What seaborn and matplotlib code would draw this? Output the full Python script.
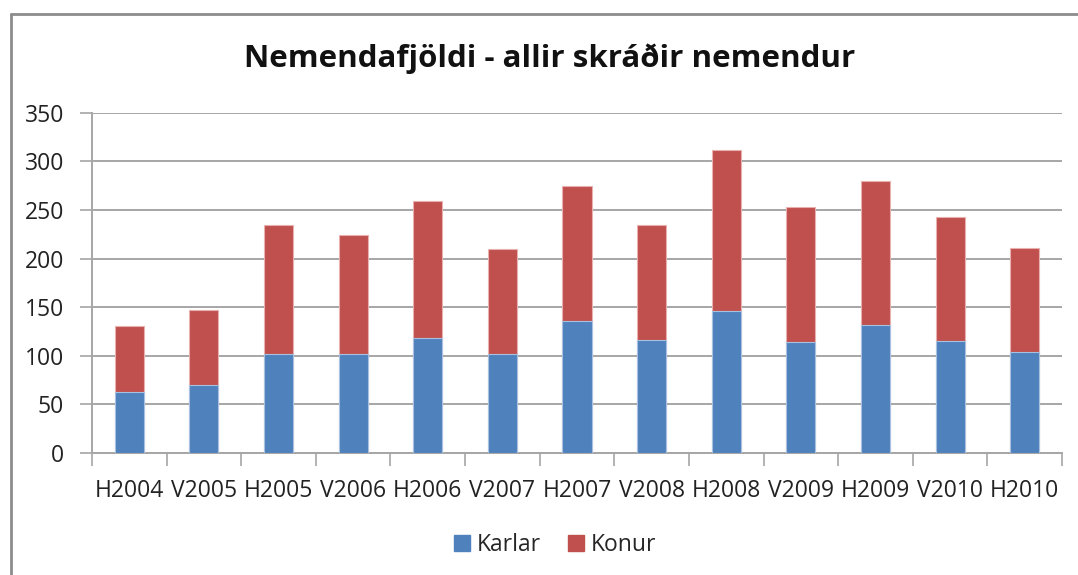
import matplotlib
matplotlib.use("Agg")
import matplotlib.pyplot as plt
import seaborn as sns
import pandas as pd
import numpy as np
from matplotlib.patches import Patch
from matplotlib.lines import Line2D

categories = ["H2004", "V2005", "H2005", "V2006", "H2006", "V2007", "H2007",
              "V2008", "H2008", "V2009", "H2009", "V2010", "H2010"]
karlar = [63, 70, 102, 102, 118, 102, 136, 116, 146, 114, 132, 115, 104]
konur = [68, 77, 132, 122, 141, 108, 139, 119, 166, 139, 148, 128, 107]
yticks = [0, 50, 100, 150, 200, 250, 300, 350]

title = "Nemendafjöldi - allir skráðir nemendur"
blue = "#4F81BD"
red = "#C0504D"
grid_c = "#A6A6A6"

sns.set_theme(style="white")
plt.rcParams['font.family'] = ['Open Sans', 'DejaVu Sans']

df = pd.DataFrame({"cat": categories, "Karlar": karlar, "Konur": konur})
df["total"] = df["Karlar"] + df["Konur"]

fig = plt.figure(figsize=(10.78, 5.75), dpi=100)
ax = fig.add_axes([92/1078, (575-453)/575, (1062-92)/1078, (453-112.7)/575])

sns.barplot(data=df, x="cat", y="total", color=red, width=0.39, ax=ax,
            saturation=1, edgecolor="#E8B0AE", linewidth=0.8, zorder=3)
sns.barplot(data=df, x="cat", y="Karlar", color=blue, width=0.39, ax=ax,
            saturation=1, edgecolor="#A9C1E0", linewidth=0.8, zorder=4)

ax.set_ylim(0, 350)
ax.set_xlim(-0.5, len(categories) - 0.5)
ax.set_yticks(yticks)
ax.set_yticklabels([str(v) for v in yticks], fontsize=16.5, color="#222222")
ax.set_xlabel("")
ax.set_ylabel("")
ax.tick_params(axis="x", which="major", length=0, pad=19, labelsize=16.5, labelcolor="#222222")
ax.set_xticks(np.arange(-0.5, len(categories), 1.0), minor=True)
ax.tick_params(axis="x", which="minor", length=9, width=1.2, color=grid_c, direction="out", bottom=True)
ax.tick_params(axis="y", length=9, width=1.2, color=grid_c, direction="out", left=True, pad=11)

ax.yaxis.grid(True, color=grid_c, linewidth=1.4, zorder=0)
ax.set_axisbelow(True)
for s in ["top", "right"]:
    ax.spines[s].set_visible(False)
for s in ["left", "bottom"]:
    ax.spines[s].set_color(grid_c)
    ax.spines[s].set_linewidth(1.4)

fig.text(550/1078, 1 - 59/575, title, ha="center", va="center",
         fontsize=22.5, fontweight="bold", color="#111111")

handles = [Patch(facecolor=blue, edgecolor=blue, label="Karlar"),
           Patch(facecolor=red, edgecolor=red, label="Konur")]
fig.legend(handles=handles, loc="center", bbox_to_anchor=(555/1078, 1 - 545/575),
           ncol=2, frameon=False, fontsize=16.5, handlelength=0.7, handleheight=0.7,
           handletextpad=0.3, columnspacing=1.2)

# outer chart frame (left and top edges visible)
fig.add_artist(Line2D([10.5/1078, 10.5/1078], [0, 1 - 13.5/575], transform=fig.transFigure,
                      color="#8C8C8C", linewidth=2))
fig.add_artist(Line2D([10.5/1078, 1.0], [1 - 13.5/575, 1 - 13.5/575], transform=fig.transFigure,
                      color="#8C8C8C", linewidth=2))

fig.savefig("out.png", dpi=100)
